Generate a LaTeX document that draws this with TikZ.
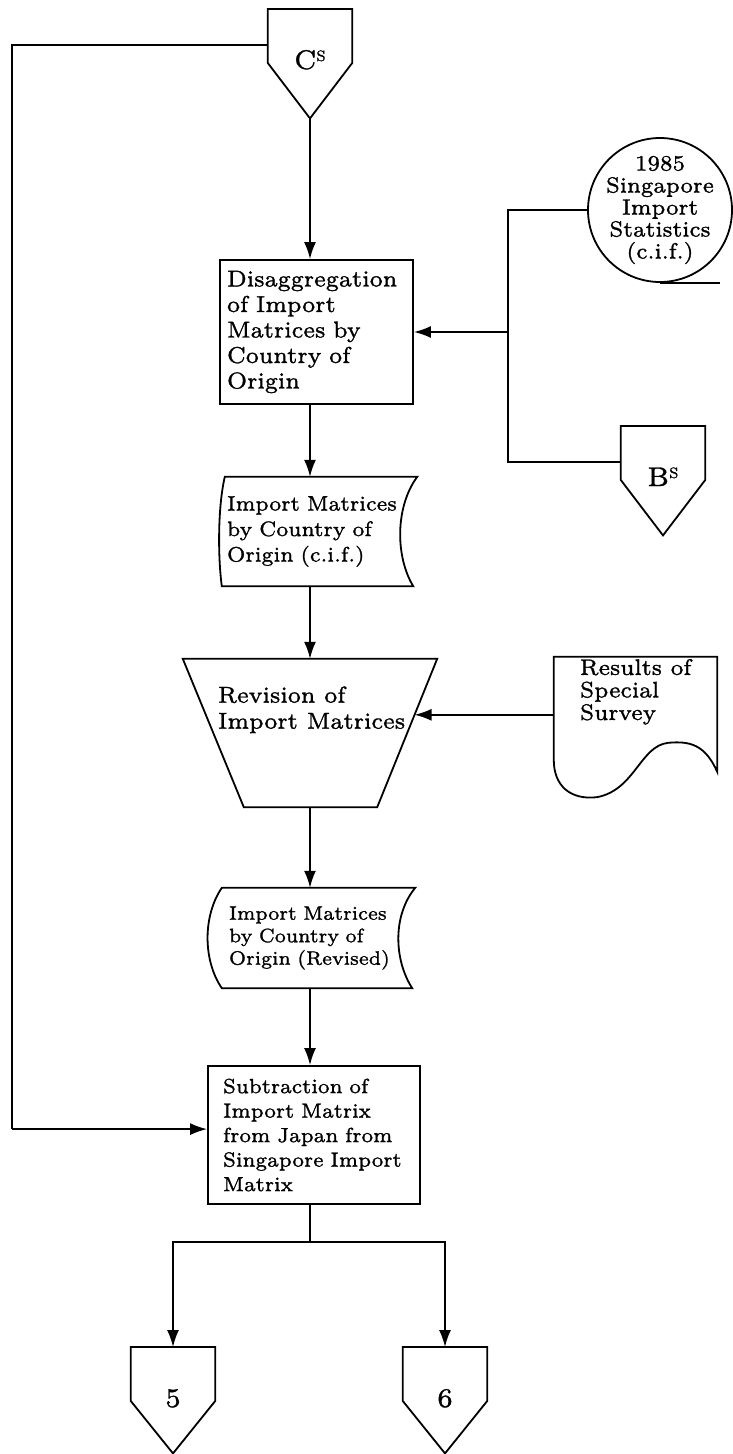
\documentclass[tikz,border=0pt]{standalone}
\usepackage{fontspec}
\setmainfont{lmroman7-regular}[Extension=.otf,FakeBold=1.2]
\usetikzlibrary{arrows.meta,calc}

\tikzset{
  flow/.style={line width=1.8pt},
  arr/.style={flow,-{Latex[length=17pt,width=12pt]}},
  outline/.style={line width=1.8pt,line join=miter},
  area/.style={inner sep=0pt,draw=none},
  procbox/.style={draw,outline,align=left,inner ysep=0pt},
  txt/.style={align=left,inner sep=0pt},
}

% off-page connector: name, centre x, top y, tip depth, label
\newcommand{\pagelink}[5]{%
  \node[area,minimum width=84pt,minimum height={54pt+#4pt},anchor=north] (#1) at (#2,#3) {};
  \draw[outline] (#1.north west) -- (#1.north east) -- ++(0,54)
    -- (#1.south) -- ($(#1.north west)+(0,54)$) -- cycle;
  \node[anchor=base,inner sep=0pt,font=\fontsize{27}{27}\selectfont] (#1-label)
    at ($(#1.north)+(0,60)$) {#5};
}
\newcommand{\supS}{\raisebox{8pt}{\fontsize{15}{15}\selectfont S}}

\begin{document}
\begin{tikzpicture}[x=1pt,y=-1pt]
\useasboundingbox (0,0) rectangle (733,1454);

% off-page connectors
\pagelink{cs}{310}{9}{55}{C\supS}
\pagelink{bs}{663}{426}{55}{B\supS}
\pagelink{p5}{173}{1347}{52}{5}
\pagelink{p6}{445}{1347}{52}{6}

% process: disaggregation
\node[procbox,font=\fontsize{23}{25.5}\selectfont,minimum width=193pt,minimum height=144pt,
      inner xsep=7pt,text width=179pt] (dis) at (316.5,332)
  {Disaggregation\\of Import\\Matrices by\\Country of\\Origin};

% magnetic tape: 1985 statistics
\node[draw,outline,circle,minimum size=144pt,inner sep=0pt] (stat) at (660,210) {};
\node[align=center,inner sep=0pt,font=\fontsize{22}{22}\selectfont] (stat-text) at (stat.center)
  {1985\\Singapore\\Import\\Statistics\\(c.i.f.)};
\draw[outline] (stat.south) -- ++(60,0);

% stored data: import matrices (c.i.f.)
\node[area,minimum width=197pt,minimum height=109pt,txt,inner xsep=7pt,text width=183pt,
      font=\fontsize{21}{25.5}\selectfont] (doc1) at (318.5,531.5)
  {Import Matrices\\by Country of\\Origin (c.i.f.)};
\draw[outline] ($(doc1.north west)+(5,0)$) -- (doc1.north east)
  .. controls ($(doc1.north east)+(-22,30)$) and ($(doc1.south east)+(-22,-30)$) .. ($(doc1.south east)+(-4,0)$)
  -- ($(doc1.south west)+(2,0)$)
  .. controls ($(doc1.south west)+(-2,-30)$) and ($(doc1.north west)+(-2,30)$) .. ($(doc1.north west)+(5,0)$)
  -- cycle;

% manual operation: revision
\node[area,minimum width=254pt,minimum height=148pt] (rev) at (310,733) {};
\draw[outline] (rev.north west) -- (rev.north east) -- ($(rev.south east)+(-60,0)$)
  -- ($(rev.south west)+(61,0)$) -- cycle;
\node[txt,anchor=west,font=\fontsize{23}{26}\selectfont] (rev-text) at ($(rev.north west)+(35,51)$)
  {Revision of\\Import Matrices};
\coordinate (revin) at ($(rev.north east)+(-22.7,56)$);

% document: special survey
\node[area,minimum width=163pt,minimum height=140pt] (sur) at (635.5,727) {};
\draw[outline] (sur.north west) -- (sur.north east) -- ($(sur.north east)+(0,115)$)
  .. controls ($(sur.north east)+(-12,88)$) and ($(sur.north east)+(-27,84)$) .. ($(sur.north east)+(-49,86)$)
  .. controls ($(sur.north east)+(-77,89)$) and ($(sur.south west)+(81,-7)$) .. ($(sur.south west)+(43,0)$)
  .. controls ($(sur.south west)+(16,3)$) and ($(sur.south west)+(0,-12)$) .. ($(sur.south west)+(0,-37)$)
  -- cycle;
\node[txt,anchor=west,font=\fontsize{22.5}{22.5}\selectfont] (sur-text) at ($(sur.north west)+(26,35)$)
  {Results of\\Special\\Survey};

% stored data: import matrices (revised)
\node[area,minimum width=207pt,minimum height=100pt,txt,inner xsep=21pt,text width=165pt,
      font=\fontsize{19.5}{22.5}\selectfont] (doc2) at (311.5,938)
  {Import Matrices\\by Country of\\Origin (Revised)};
\draw[outline] ($(doc2.north west)+(14,0)$) -- (doc2.north east)
  .. controls ($(doc2.north east)+(-23,28)$) and ($(doc2.south east)+(-21,-28)$) .. ($(doc2.south east)+(-3,0)$)
  -- ($(doc2.south west)+(14,0)$)
  .. controls ($(doc2.south west)+(-5,-28)$) and ($(doc2.north west)+(-5,28)$) .. ($(doc2.north west)+(14,0)$)
  -- cycle;

% process: subtraction
\node[procbox,font=\fontsize{20.5}{24.5}\selectfont,minimum width=212pt,minimum height=138pt,
      inner xsep=15pt,text width=182pt] (sub) at (314,1135)
  {Subtraction of\\Import Matrix\\from Japan from\\Singapore Import\\Matrix};

% main column
\draw[arr] (cs.south) -- (cs.south |- dis.north);
\draw[arr] (cs.south |- dis.south) -- (cs.south |- doc1.north);
\draw[arr] (cs.south |- doc1.south) -- (cs.south |- rev.north);
\draw[arr] (cs.south |- rev.south) -- (cs.south |- doc2.north);
\draw[arr] (cs.south |- doc2.south) -- (cs.south |- sub.north);
\draw[flow] (cs.south |- sub.south) -- ++(0,37) coordinate (split);
\draw[arr] (split) -| (p5.north);
\draw[arr] (split) -| (p6.north);

% inputs on the right
\coordinate (bsin) at ($(bs.north west)+(0,36)$);
\coordinate (trunk) at ($(stat.west)+(-79,0)$);
\draw[flow] (stat.west) -- (trunk) -- (trunk |- bsin) -- (bsin);
\draw[arr] (trunk |- dis.east) -- (dis.east);
\draw[arr] ($(sur.north west)+(0,58)$) -- (revin);

% loop from C^S to the subtraction
\coordinate (csout) at ($(cs.north west)+(0,36)$);
\coordinate (subin) at ($(sub.north west)+(0,64)$);
\draw[flow] (csout) -- ++(-256,0) coordinate (loopcorner) -- (loopcorner |- subin);
\draw[arr] (loopcorner |- subin) -- (subin);
\end{tikzpicture}
\end{document}
